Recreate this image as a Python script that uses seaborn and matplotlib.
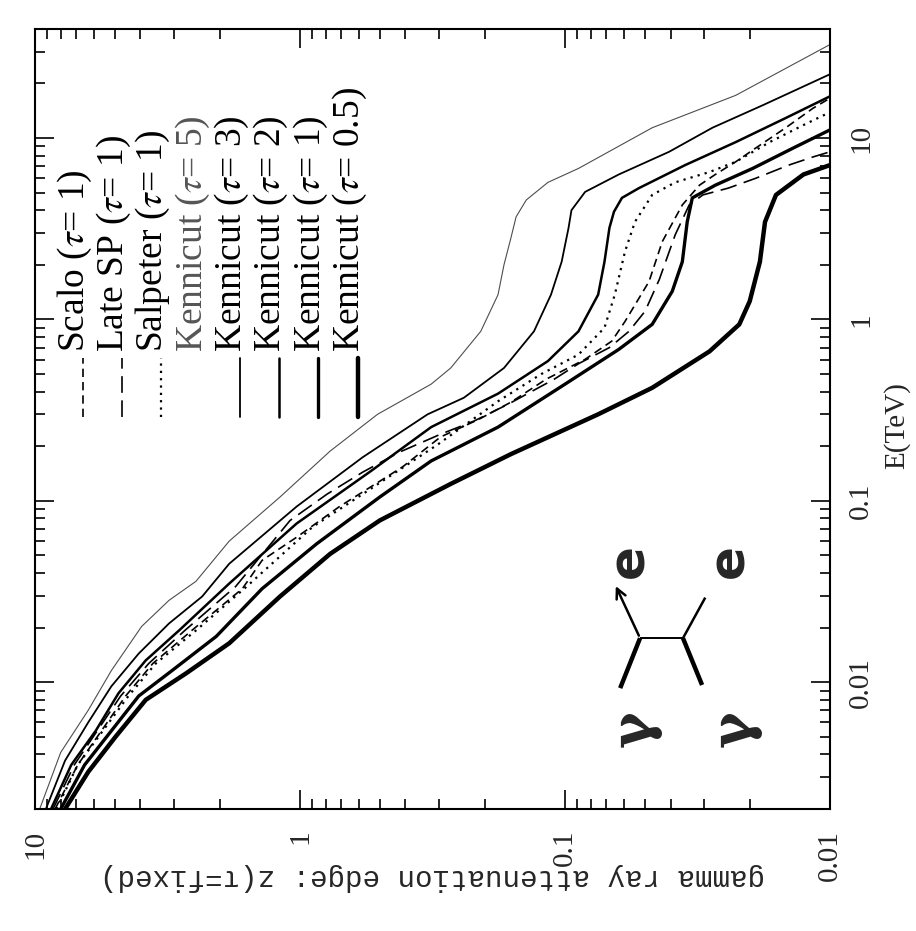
import matplotlib
matplotlib.use("Agg")
import matplotlib.pyplot as plt
import pandas as pd
import seaborn as sns

# ------------------------------------------------------------------------------
# Data: gamma ray energy E (TeV) and the attenuation
# edge z(tau = fixed) for each background model
# ------------------------------------------------------------------------------
SCALO_E = [0.002, 0.0035, 0.0084, 0.0127, 0.0193, 0.0328, 0.047, 0.063, 0.093,
           0.154, 0.225, 0.282, 0.35, 0.468, 0.603, 0.76, 0.975, 1.62, 2.68,
           4.28, 5.5, 6.3, 7.4, 8.8, 11.4, 14.6, 16.6]
SCALO_Z = [8.4, 6.9, 4.55, 3.59, 2.56, 1.65, 1.39, 1.03, 0.71,
           0.41, 0.295, 0.211, 0.160, 0.118, 0.084, 0.0666, 0.0594, 0.0482,
           0.0430, 0.0361, 0.0311, 0.0271, 0.0227, 0.0191, 0.0147, 0.0116, 0.01]

LATE_SP_E = [0.002, 0.0035, 0.0084, 0.0127, 0.0193, 0.0337, 0.078, 0.109,
             0.144, 0.186, 0.233, 0.275, 0.341, 0.468, 0.57, 0.70, 0.86, 1.11,
             1.66, 2.93, 4.28, 4.86, 5.3, 6.0, 7.1, 7.87, 8.4]
LATE_SP_Z = [8.55, 7.11, 4.75, 3.72, 2.72, 1.75, 1.09, 0.79,
             0.58, 0.42, 0.295, 0.221, 0.164, 0.110, 0.089, 0.068, 0.0574,
             0.0499, 0.0441, 0.0384, 0.034, 0.0302, 0.0242, 0.0191, 0.0143,
             0.0116, 0.01]

SALPETER_E = [0.002, 0.0035, 0.0084, 0.0127, 0.0193, 0.0337, 0.072, 0.109,
              0.206, 0.354, 0.50, 0.64, 0.90, 1.37, 2.37, 3.45, 4.86, 5.7,
              6.5, 7.4, 9.5, 11.8, 13.9]
SALPETER_Z = [8.3, 6.9, 4.44, 3.50, 2.47, 1.59, 0.895, 0.58,
              0.30, 0.179, 0.123, 0.089, 0.071, 0.0649, 0.0594, 0.0545, 0.0469,
              0.0384, 0.0285, 0.0227, 0.0169, 0.0126, 0.01]

KEN5_E = [0.002, 0.0041, 0.0070, 0.0116, 0.0203, 0.0283, 0.036, 0.060, 0.105,
          0.188, 0.30, 0.44, 0.54, 0.86, 1.37, 2.0, 2.82, 3.68, 4.56, 5.7,
          6.8, 11.4, 17.2, 32.8]
KEN5_Z = [9.6, 8.0, 6.3, 5.15, 3.96, 3.12, 2.47, 1.85, 1.19,
          0.77, 0.51, 0.32, 0.27, 0.208, 0.179, 0.170, 0.160, 0.153, 0.140,
          0.116, 0.089, 0.0469, 0.0227, 0.01]

KEN3_E = [0.002, 0.0037, 0.0060, 0.0095, 0.0144, 0.0211, 0.0297, 0.045, 0.093,
          0.174, 0.30, 0.37, 0.54, 0.86, 1.37, 2.08, 3.2, 4.0, 5.05, 6.3,
          8.4, 11.4, 15.2, 22.5]
KEN3_Z = [9.1, 7.7, 6.3, 5.15, 4.06, 3.12, 2.34, 1.85, 1.03,
          0.58, 0.33, 0.241, 0.170, 0.131, 0.113, 0.103, 0.097, 0.0946,
          0.084, 0.0627, 0.0405, 0.0278, 0.0179, 0.01]

KEN2_E = [0.002, 0.0035, 0.0054, 0.0087, 0.0132, 0.0193, 0.035, 0.075, 0.146,
          0.255, 0.39, 0.59, 0.86, 1.37, 2.08, 3.2, 3.92, 4.68, 5.3, 7.1,
          9.5, 12.9, 17.0]
KEN2_Z = [8.7, 7.3, 5.9, 4.84, 3.82, 2.86, 1.85, 1.03, 0.54,
          0.32, 0.179, 0.116, 0.089, 0.075, 0.071, 0.068, 0.0654, 0.061,
          0.0526, 0.0352, 0.0227, 0.0147, 0.01]

KEN1_E = [0.002, 0.0035, 0.0054, 0.0084, 0.0116, 0.0179, 0.0328, 0.058, 0.105,
          0.166, 0.255, 0.44, 0.684, 0.94, 1.43, 2.08, 3.45, 4.68, 5.5, 6.8,
          8.8, 11.1]
KEN1_Z = [8.0, 6.5, 5.15, 4.06, 3.04, 2.07, 1.39, 0.865, 0.50,
          0.32, 0.179, 0.100, 0.0627, 0.0469, 0.0394, 0.0361, 0.0346, 0.0331,
          0.0271, 0.0196, 0.0138, 0.01]

KEN05_E = [0.002, 0.0032, 0.0050, 0.0080, 0.0112, 0.0164, 0.0297, 0.051, 0.078,
           0.124, 0.181, 0.30, 0.42, 0.667, 0.94, 1.26, 2.08, 3.45, 4.86, 6.3,
           7.1]
KEN05_Z = [7.7, 6.3, 4.97, 3.82, 2.69, 1.85, 1.19, 0.77, 0.50,
           0.27, 0.160, 0.075, 0.0469, 0.0285, 0.022, 0.0201, 0.0184, 0.0176,
           0.016, 0.0126, 0.01]

MODEL_LABELS = ["Scalo (τ= 1)", "Late SP (τ= 1)", "Salpeter (τ= 1)",
                "Kennicut (τ= 5)", "Kennicut (τ= 3)", "Kennicut (τ= 2)",
                "Kennicut (τ= 1)", "Kennicut (τ= 0.5)"]

Z_TICKS = [10, 1, 0.1, 0.01]
Z_TICK_LABELS = ["10", "1", "0.1", "0.01"]
E_TICKS = [0.01, 0.1, 1, 10]
E_TICK_LABELS = ["0.01", "0.1", "1", "10"]

# ------------------------------------------------------------------------------
# Plot parameters
# ------------------------------------------------------------------------------
LINE_COLORS = ["black", "black", "black", "0.3", "black", "black", "black",
               "black"]
LINE_WIDTHS = [1.2, 1.2, 1.6, 0.8, 1.3, 1.8, 2.4, 3.2]
LINE_DASHES = [(5, 3), (10, 4.5), (1, 2.3), "", "", "", "", ""]
SERIF = "Liberation Serif"
TICK_FONT_SIZE = 21


def build_df():
  curves = [(SCALO_E, SCALO_Z), (LATE_SP_E, LATE_SP_Z),
            (SALPETER_E, SALPETER_Z), (KEN5_E, KEN5_Z), (KEN3_E, KEN3_Z),
            (KEN2_E, KEN2_Z), (KEN1_E, KEN1_Z), (KEN05_E, KEN05_Z)]
  rows = []
  for label, (es, zs) in zip(MODEL_LABELS, curves):
    for e, z in zip(es, zs):
      rows.append((label, e, z))
  return pd.DataFrame(rows, columns=["model", "E", "z"])


def draw_legend(ax):
  # legend entries stand as rotated columns in the upper left corner
  x0, dx = 0.050, 0.0494
  for i, label in enumerate(MODEL_LABELS):
    x = x0 + i * dx
    if i != 3:  # the tau=5 sample line is too faint to show in the legend
      line, = ax.plot([x + 0.010, x + 0.010], [0.503, 0.578],
                      transform=ax.transAxes, color=LINE_COLORS[i],
                      lw=LINE_WIDTHS[i])
      if LINE_DASHES[i] != "":
        line.set_dashes(LINE_DASHES[i])
    text = label.replace("τ", r"$\tau$")
    ax.text(x, 0.586, text, rotation=90, rotation_mode="anchor",
            ha="left", va="center", fontsize=27, family=SERIF,
            color="#555555" if i == 3 else "black", transform=ax.transAxes)


def draw_diagram(ax):
  # gamma gamma -> e e sketch, lower right corner
  kw = dict(transform=ax.transAxes, color="black", solid_capstyle="butt")
  ax.plot([0.761, 0.815], [0.219, 0.219], lw=1.4, **kw)
  ax.plot([0.761, 0.736], [0.219, 0.155], lw=3.2, **kw)
  ax.plot([0.815, 0.839], [0.219, 0.159], lw=3.2, **kw)
  ax.plot([0.815, 0.843], [0.219, 0.271], lw=1.8, **kw)
  ax.annotate("", xy=(0.729, 0.289), xytext=(0.761, 0.219),
              xycoords="axes fraction",
              arrowprops=dict(arrowstyle="->,head_length=0.7,head_width=0.35",
                              lw=1.8, color="black"))
  tkw = dict(transform=ax.transAxes, rotation=90, ha="center", va="center",
             fontsize=36, fontweight="bold", family="DejaVu Sans")
  ax.text(0.747, 0.318, "e", **tkw)
  ax.text(0.873, 0.318, "e", **tkw)
  gkw = dict(tkw, family="DejaVu Serif", fontsize=40)
  ax.text(0.753, 0.103, "γ", **gkw)
  ax.text(0.879, 0.103, "γ", **gkw)


def plot_edges(df):
  sns.set_style("ticks")
  plt.rcParams["font.family"] = [SERIF, "DejaVu Sans"]
  plt.rcParams["mathtext.fontset"] = "stix"
  fig = plt.figure(figsize=(9.16, 9.31), dpi=100)
  ax = fig.add_axes([0.0382, 0.131, 0.868, 0.838])
  ax.set_xscale("log")
  ax.set_yscale("log")

  sns.lineplot(data=df, x="z", y="E", hue="model", size="model",
               style="model",
               palette=dict(zip(MODEL_LABELS, LINE_COLORS)),
               sizes=dict(zip(MODEL_LABELS, LINE_WIDTHS)),
               dashes=dict(zip(MODEL_LABELS, LINE_DASHES)),
               sort=False, estimator=None, legend=False, ax=ax)

  ax.set_xticks(Z_TICKS, labels=Z_TICK_LABELS)
  ax.set_yticks(E_TICKS, labels=E_TICK_LABELS)
  z_minor = [m * 10.0 ** d for d in (-2, -1, 0) for m in range(2, 10)]
  e_minor = [m * 10.0 ** d for d in (-3, -2, -1, 0, 1) for m in range(2, 10)]
  e_minor = [e for e in e_minor if e <= 40]
  ax.set_xticks(z_minor, minor=True, labels=[""] * len(z_minor))
  ax.set_yticks(e_minor, minor=True, labels=[""] * len(e_minor))
  ax.set_xlim(10, 0.01)
  ax.set_ylim(0.002, 40)

  ax.tick_params(which="both", direction="in", top=True, bottom=True,
                 left=True, right=True, width=1.2, color="black")
  ax.tick_params(which="major", length=14)
  ax.tick_params(which="minor", length=7)
  ax.tick_params(axis="x", labelrotation=90, pad=15,
                 labelsize=TICK_FONT_SIZE)
  ax.tick_params(axis="y", labelleft=False, labelright=True,
                 labelrotation=90, pad=13, labelsize=TICK_FONT_SIZE)
  for lab in ax.get_xticklabels():
    lab.set_family(SERIF)
  for lab in ax.get_yticklabels():
    lab.set_family(SERIF)
    lab.set_va("center")
  for spine in ax.spines.values():
    spine.set_linewidth(1.5)
    spine.set_color("black")
  ax.set_xlabel("")
  ax.set_ylabel("")

  ax.text(0.5, -0.087, "gamma ray attenuation edge: z(τ=fixed)",
          rotation=180, ha="center", va="center", fontsize=21,
          family=["Liberation Mono", "DejaVu Sans Mono"],
          transform=ax.transAxes)
  ax.text(1.084, 0.492, "E(TeV)", rotation=90, ha="center", va="center",
          fontsize=21, family=SERIF, transform=ax.transAxes)

  draw_legend(ax)
  draw_diagram(ax)
  fig.savefig("out.png", dpi=100)


def main():
  df = build_df()
  plot_edges(df)


if __name__ == "__main__":
  main()
